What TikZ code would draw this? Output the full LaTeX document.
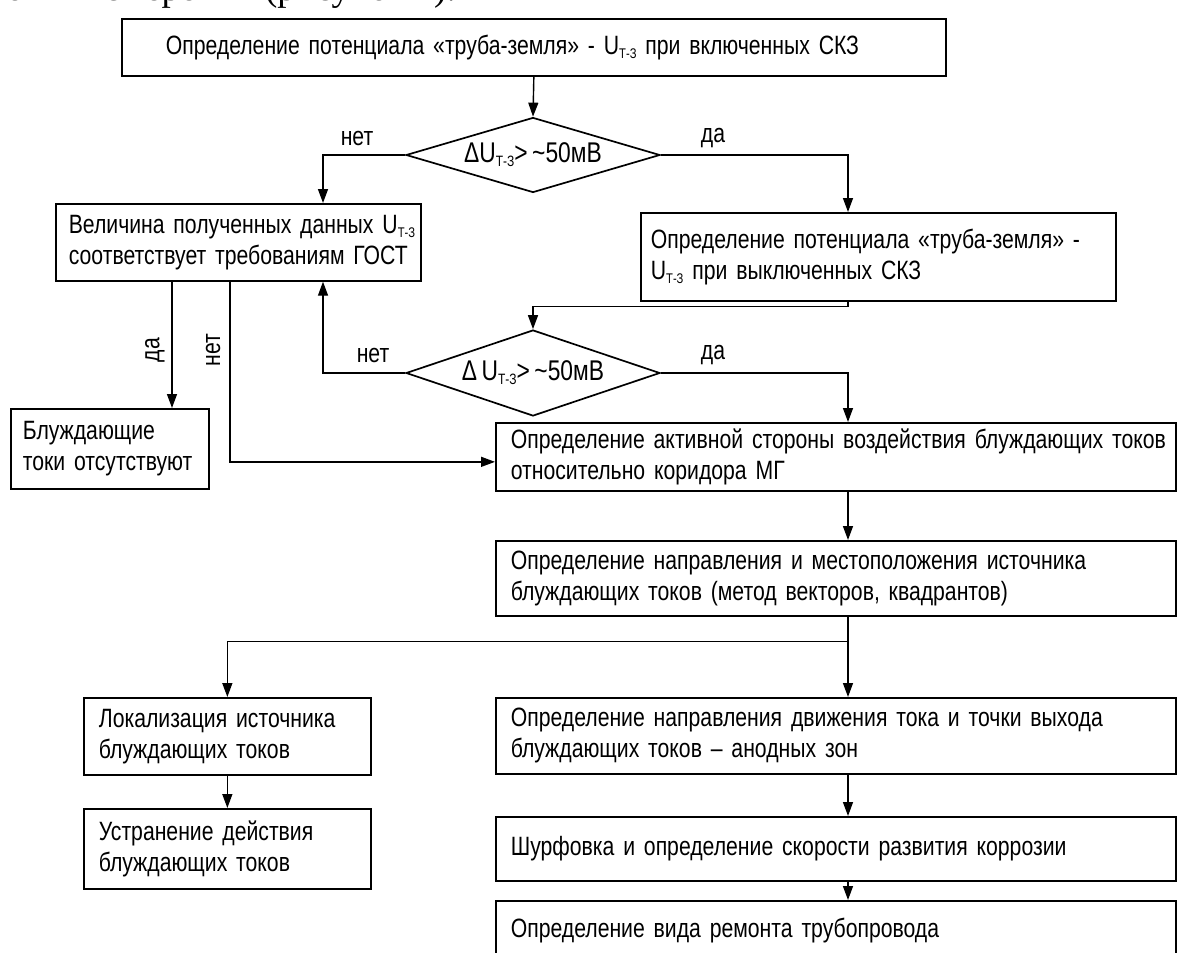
\documentclass[tikz,border=0pt]{standalone}
\usepackage{fontspec}
\setmainfont[FakeStretch=0.80,WordSpace=0.7]{Liberation Sans}
\newfontfamily\bodyserif{Liberation Serif}
\usetikzlibrary{shapes.geometric,arrows.meta,calc}
\newcommand\Utz{U\raisebox{-4pt}{\fontsize{14}{14}\selectfont Т-З}}
\newcommand\oneline[1]{\mbox{#1}}
\begin{document}
\begin{tikzpicture}[x=1pt,y=-1pt,
  every node/.style={font=\fontsize{26.5}{31}\selectfont},
  box/.style={draw, line width=1.7pt, anchor=north west, align=left, inner ysep=0pt},
  dia/.style={draw, diamond, line width=1.7pt, aspect=3.6, inner sep=1pt, minimum width=254pt, font=\fontsize{28.5}{31}\selectfont},
  conn/.style={line width=1.4pt},
  arr/.style={conn, -{Triangle[length=14pt,width=10pt]}},
  lbl/.style={inner sep=0pt}]
\useasboundingbox (0,0) rectangle (1179,953);
\clip (0,0) rectangle (1179,953);
% cut-off body text line
\node[anchor=base east, inner sep=0pt, font=\bodyserif\fontsize{37}{40}\selectfont] (bodyline) at (456,1) {условия измерений (рисунок 2).};
% boxes
\node[box, minimum width=824pt, minimum height=57pt, text width=736pt, inner xsep=44pt] (top) at (121,18) {\oneline{Определение потенциала «труба-земля» - \Utz{} при включенных СКЗ}};
\node[dia, minimum height=75pt] (d1) at (533,155) {ΔU\raisebox{-4pt}{\fontsize{15}{15}\selectfont Т-З}> \textasciitilde50мВ};
\node[box, minimum width=365pt, minimum height=77pt, text width=339pt, inner xsep=13pt] (vel) at (55,203) {\oneline{Величина полученных данных \Utz}\\\oneline{соответствует требованиям ГОСТ}};
\node[box, minimum width=475pt, minimum height=88pt, text width=455pt, inner xsep=10pt] (off) at (640,212) {\oneline{Определение потенциала «труба-земля» -}\\\oneline{\Utz{} при выключенных СКЗ}};
\node[dia, minimum height=86pt] (d2) at (533,373) {Δ U\raisebox{-4pt}{\fontsize{15}{15}\selectfont Т-З}> \textasciitilde50мВ};
\node[box, minimum width=198pt, minimum height=80pt, text width=174pt, inner xsep=12pt] (blu) at (10,408) {\oneline{Блуждающие}\\\oneline{токи отсутствуют}};
\node[box, minimum width=680pt, minimum height=68pt, text width=650pt, inner xsep=15pt] (b3) at (495,422) {\oneline{Определение активной стороны воздействия блуждающих токов}\\\oneline{относительно коридора МГ}};
\node[box, minimum width=680pt, minimum height=75pt, text width=650pt, inner xsep=15pt] (b4) at (495,540) {\oneline{Определение направления и местоположения источника}\\\oneline{блуждающих токов (метод векторов, квадрантов)}};
\node[box, minimum width=287pt, minimum height=77pt, text width=257pt, inner xsep=15pt] (lok) at (83,697) {\oneline{Локализация источника}\\\oneline{блуждающих токов}};
\node[box, minimum width=287pt, minimum height=80pt, text width=257pt, inner xsep=15pt] (ust) at (83,808) {\oneline{Устранение действия}\\\oneline{блуждающих токов}};
\node[box, minimum width=680pt, minimum height=76pt, text width=650pt, inner xsep=15pt] (b5) at (495,697) {\oneline{Определение направления движения тока и точки выхода}\\\oneline{блуждающих токов -- анодных зон}};
\node[box, minimum width=680pt, minimum height=64pt, text width=650pt, inner xsep=15pt] (b6) at (495,816) {\oneline{Шурфовка и определение скорости развития коррозии}};
\node[box, minimum width=680pt, minimum height=60pt, text width=650pt, inner xsep=15pt] (b7) at (495,900) {\oneline{Определение вида ремонта трубопровода}};
% connectors
\draw[arr] (top.south) -- (d1.north);
\draw[arr] (d1.west) -| ([xshift=268pt]vel.north west);
\draw[arr] (d1.east) -| ([xshift=208pt]off.north west);
\draw[conn] ([xshift=208pt]off.south west) -- ++(0,5) coordinate (k);
\draw[arr] (k) -| (d2.north);
\draw[arr] (d2.west) -| ([xshift=268pt]vel.south west);
\draw[arr] (d2.east) -| ([xshift=353pt]b3.north west);
\draw[arr] ([xshift=117pt]vel.south west) -- ([xshift=162pt]blu.north west);
\draw[arr] ([xshift=175pt]vel.south west) |- ([yshift=-5pt]b3.west);
\draw[arr] ([xshift=353pt]b3.south west) -- ([xshift=353pt]b4.north west);
\draw[conn] ([xshift=353pt]b4.south west) -- ++(0,25) coordinate (j);
\draw[arr] (j) -| (lok.north);
\draw[arr] (j) -- ([xshift=353pt]b5.north west);
\draw[arr] (lok.south) -- (ust.north);
\draw[arr] ([xshift=353pt]b5.south west) -- ([xshift=353pt]b6.north west);
\draw[arr] ([xshift=353pt]b6.south west) -- ([xshift=353pt]b7.north west);
% labels
\node[lbl] (n1) at (357,138) {нет};
\node[lbl] (y1) at (713,138) {да};
\node[lbl] (n2) at (373,355) {нет};
\node[lbl] (y2) at (713,355) {да};
\node[lbl, rotate=90] (y3) at (155,350) {да};
\node[lbl, rotate=90] (n3) at (213,350) {нет};
\end{tikzpicture}
\end{document}
